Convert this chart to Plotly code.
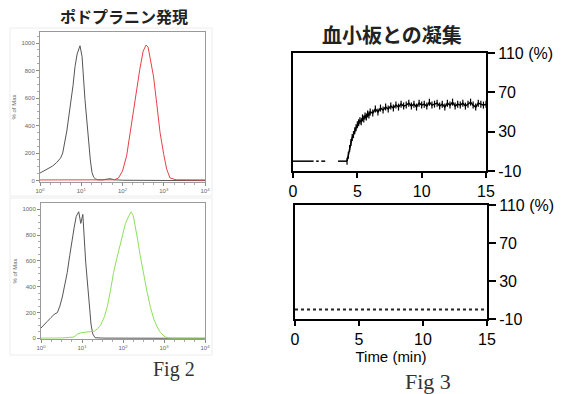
import plotly.graph_objects as go

W, H = 564, 394

# ---- Fig 2: flow cytometry histograms (x = log10 decade, y = count, % of max) ----
flow_ticks = [0, 1, 2, 3, 4]
flow_ticktext = ["10<sup>0</sup>", "10<sup>1</sup>", "10<sup>2</sup>", "10<sup>3</sup>", "10<sup>4</sup>"]
flow_yticks = [0, 200, 400, 600, 800, 1000]

top_gray_x = [0.0, 0.1, 0.2, 0.3, 0.4, 0.5, 0.55, 0.6, 0.65, 0.7, 0.76, 0.8, 0.85, 0.9, 0.97, 1.02, 1.09, 1.13, 1.17, 1.22, 1.26, 1.3, 1.35, 1.4, 1.5, 1.6, 1.7, 1.8, 2.0, 2.5, 3.0, 4.0]
top_gray_y = [55, 70, 90, 105, 130, 165, 200, 270, 360, 470, 590, 690, 830, 920, 980, 900, 590, 440, 300, 150, 60, 25, 12, 6, 5, 10, 14, 6, 3, 2, 1, 0]

top_red_x = [0.0, 1.0, 1.8, 1.9, 2.0, 2.1, 2.2, 2.26, 2.35, 2.42, 2.5, 2.57, 2.62, 2.68, 2.75, 2.83, 2.91, 3.0, 3.07, 3.15, 3.3, 4.0]
top_red_y = [5, 5, 6, 18, 70, 180, 380, 520, 680, 810, 940, 985, 970, 880, 760, 560, 350, 190, 85, 20, 6, 5]

bot_gray_x = [0.0, 0.07, 0.15, 0.24, 0.32, 0.4, 0.46, 0.52, 0.58, 0.64, 0.7, 0.76, 0.81, 0.86, 0.92, 0.97, 1.02, 1.09, 1.13, 1.17, 1.22, 1.26, 1.32, 1.5, 2.0, 4.0]
bot_gray_y = [80, 100, 130, 160, 185, 200, 250, 320, 410, 510, 640, 770, 860, 945, 980, 890, 960, 590, 420, 250, 110, 35, 5, 2, 1, 0]

bot_green_x = [0.0, 0.5, 0.8, 0.9, 1.0, 1.1, 1.2, 1.3, 1.38, 1.45, 1.55, 1.62, 1.7, 1.77, 1.85, 1.94, 2.0, 2.06, 2.13, 2.2, 2.25, 2.3, 2.36, 2.42, 2.5, 2.59, 2.67, 2.75, 2.83, 2.91, 3.0, 3.07, 3.2, 4.0]
bot_green_y = [2, 3, 10, 35, 45, 48, 50, 55, 75, 100, 170, 250, 380, 510, 620, 740, 830, 890, 940, 980, 950, 870, 760, 640, 500, 355, 240, 150, 90, 46, 18, 5, 2, 2]

# ---- Fig 3: platelet aggregation (time in min, aggregation %) ----
agg_ticks = [0, 5, 10, 15]
agg_yticks = [-10, 30, 70, 110]
agg_yticktext = ["-10", "30", "70", "110 (%)"]

base_t = [0.0, 1.6, None, 1.8, 2.0, None, 2.2, 2.5, None, 3.5, 4.2]
base_v = [0, 0, None, 0, 0, None, 0, 0, None, 0, 0]

agg_t = [4.2, 4.3, 4.4, 4.5, 4.6, 4.7, 4.8, 4.9, 5.0, 5.1, 5.2, 5.3, 5.4, 5.5, 5.6, 5.7, 5.8, 5.9, 6.0,
         6.2, 6.4, 6.6, 6.8, 7.0, 7.2, 7.4, 7.6, 7.8, 8.0,
         8.2, 8.4, 8.6, 8.8, 9.0, 9.2, 9.4, 9.6, 9.8, 10.0,
         10.2, 10.4, 10.6, 10.8, 11.0, 11.2, 11.4, 11.6, 11.8, 12.0,
         12.2, 12.4, 12.6, 12.8, 13.0, 13.2, 13.4, 13.6, 13.8, 14.0,
         14.2, 14.4, 14.6, 14.8, 15.0]
agg_v = [0, 6, 13, 19, 24, 27, 31, 34, 37, 39, 41, 40, 44, 43, 46, 45, 48, 47, 50,
         49, 53, 50, 54, 52, 55, 53, 56, 54, 57,
         55, 58, 56, 57, 59, 56, 58, 55, 59, 57,
         58, 56, 60, 57, 58, 59, 56, 58, 55, 59,
         57, 60, 56, 58, 57, 59, 56, 58, 60, 57,
         55, 59, 58, 57, 58]

ctrl_t = [0.0, 3.0, 6.0, 9.0, 12.0, 15.0]
ctrl_v = [0, 0, 0, 0, 0, 0]


def dom_x(a, b):
    return [a / W, b / W]


def dom_y(top, bottom):
    return [1 - bottom / H, 1 - top / H]


fig = go.Figure()

# flow traces
fig.add_trace(go.Scatter(x=top_gray_x, y=top_gray_y, mode="lines", line=dict(color="#555555", width=1), xaxis="x", yaxis="y"))
fig.add_trace(go.Scatter(x=top_red_x, y=top_red_y, mode="lines", line=dict(color="#e8404a", width=1), xaxis="x", yaxis="y"))
fig.add_trace(go.Scatter(x=bot_gray_x, y=bot_gray_y, mode="lines", line=dict(color="#555555", width=1), xaxis="x2", yaxis="y2"))
fig.add_trace(go.Scatter(x=bot_green_x, y=bot_green_y, mode="lines", line=dict(color="#8ee05a", width=1), xaxis="x2", yaxis="y2"))

# aggregation traces
fig.add_trace(go.Scatter(x=base_t, y=base_v, mode="lines", line=dict(color="black", width=1.5), xaxis="x3", yaxis="y3"))
fig.add_trace(go.Scatter(x=agg_t, y=agg_v, mode="lines+markers", line=dict(color="black", width=1.5),
                         marker=dict(symbol="line-ns", size=5, line=dict(color="black", width=1.2)),
                         xaxis="x3", yaxis="y3"))
fig.add_trace(go.Scatter(x=ctrl_t, y=ctrl_v, mode="lines", line=dict(color="#222222", width=2, dash="dot"), xaxis="x4", yaxis="y4"))

flow_font = dict(family="Liberation Sans, Arial", size=6, color="#666666")
flow_x = dict(range=[0, 4], tickvals=flow_ticks, ticktext=flow_ticktext, showgrid=False, zeroline=False,
              showline=True, mirror=True, linecolor="#9a9a9a", linewidth=1, ticks="outside", ticklen=3,
              tickcolor="#888888", tickfont=flow_font, fixedrange=True, automargin=False,
              minor=dict(ticks="outside", ticklen=2, dtick=0.25, tickcolor="#aaaaaa"))
flow_y = dict(tickvals=flow_yticks, showgrid=False, zeroline=False, showline=True, mirror=True,
              linecolor="#9a9a9a", linewidth=1, ticks="outside", ticklen=3, tickcolor="#888888",
              tickfont=flow_font, fixedrange=True, automargin=False,
              minor=dict(ticks="outside", ticklen=2, dtick=50, tickcolor="#aaaaaa"),
              title=dict(text="% of Max", font=flow_font, standoff=4))

agg_font = dict(family="Liberation Sans, Arial", size=16, color="black")
agg_x = dict(range=[0, 15], tickvals=agg_ticks, showgrid=False, zeroline=False, showline=True, mirror=True,
             linecolor="black", linewidth=2, ticks="outside", ticklen=5, tickwidth=1.5, tickcolor="black",
             tickfont=agg_font, fixedrange=True, automargin=False)
agg_y = dict(range=[-10, 110], tickvals=agg_yticks, ticktext=agg_yticktext, side="right", showgrid=False,
             zeroline=False, showline=True, mirror=True, linecolor="black", linewidth=2, ticks="outside",
             ticklen=7, tickwidth=1.5, tickcolor="black", tickfont=agg_font, fixedrange=True, automargin=False)

fig.update_layout(
    width=W, height=H, margin=dict(l=0, r=0, t=0, b=0, autoexpand=False),
    paper_bgcolor="white", plot_bgcolor="white", showlegend=False,
    xaxis=dict(flow_x, domain=dom_x(40, 205), anchor="y"),
    yaxis=dict(flow_y, domain=dom_y(32, 182), range=[-10, 1080], anchor="x"),
    xaxis2=dict(flow_x, domain=dom_x(41, 205), anchor="y2"),
    yaxis2=dict(flow_y, domain=dom_y(203, 339), range=[-5, 1048], anchor="x2"),
    xaxis3=dict(agg_x, domain=dom_x(293, 486), anchor="y3"),
    yaxis3=dict(agg_y, domain=dom_y(53, 171), anchor="x3"),
    xaxis4=dict(agg_x, domain=dom_x(295, 487), anchor="y4",
                title=dict(text="Time (min)", font=dict(family="Liberation Sans, Arial", size=15, color="black"), standoff=3)),
    yaxis4=dict(agg_y, domain=dom_y(205, 319), anchor="x4"),
)

# faint frames of the flow images
for (x0, y0, x1, y1) in [(10, 28, 212, 196), (10, 198, 212, 355)]:
    fig.add_shape(type="rect", xref="paper", yref="paper", x0=x0 / W, x1=x1 / W, y0=1 - y1 / H, y1=1 - y0 / H,
                  line=dict(color="#ececec", width=1))


def label(text, cx, cy, font):
    fig.add_annotation(text=text, x=cx / W, y=1 - cy / H, xref="paper", yref="paper",
                       xanchor="center", yanchor="middle", showarrow=False, font=font)


cjk = "Noto Sans CJK JP"
label("<b>ポドプラニン発現</b>", 124, 16, dict(family=cjk, size=16, color="#222222"))
label("<b>血小板との凝集</b>", 392, 35, dict(family=cjk, size=20, color="#222222"))
label("Fig 2", 174, 369, dict(family="Liberation Serif, Times New Roman", size=20, color="#333333"))
label("Fig 3", 428, 381, dict(family="Liberation Serif, Times New Roman", size=22, color="#333333"))

fig.write_html("out.html", config={"displayModeBar": False},
               post_script="document.body.style.margin='0';document.body.style.overflow='hidden';")
